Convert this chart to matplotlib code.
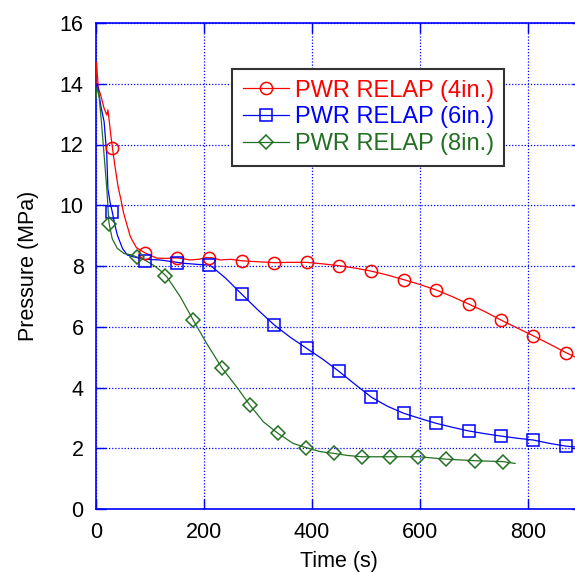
import matplotlib
matplotlib.use("Agg")
import matplotlib.pyplot as plt
from matplotlib.lines import Line2D

plt.rcParams['font.family'] = ['Liberation Sans', 'DejaVu Sans']

# ---- data ----
red_t = [0, 1, 4, 9, 15, 20, 22, 24, 27, 30, 35, 41, 46, 51, 55, 63, 67, 75, 90, 112, 130, 150,
         174, 190, 205, 215, 230, 250, 270, 300, 330, 360, 390, 420, 450, 480, 510, 540, 570,
         600, 630, 660, 690, 720, 750, 780, 810, 840, 870, 890]
red_p = [14.0, 14.7, 13.9, 13.6, 13.19, 12.97, 13.14, 12.86, 12.37, 11.95, 11.3, 10.6, 10.2,
         9.75, 9.5, 9.0, 8.85, 8.6, 8.44, 8.26, 8.25, 8.27, 8.2, 8.22, 8.28, 8.27, 8.2, 8.22,
         8.17, 8.14, 8.11, 8.12, 8.12, 8.07, 8.01, 7.93, 7.83, 7.7, 7.55, 7.39, 7.21, 6.99,
         6.75, 6.5, 6.22, 5.96, 5.7, 5.43, 5.15, 4.98]
red_mt = [30, 90, 150, 210, 270, 330, 390, 450, 510, 570, 630, 690, 750, 810, 870]
red_mp = [11.88, 8.44, 8.27, 8.27, 8.17, 8.11, 8.12, 8.01, 7.83, 7.55, 7.21, 6.75, 6.22, 5.70, 5.15]

blue_t = [0, 2.5, 8.6, 15, 20, 22, 26, 30, 35, 39.5, 49, 58, 70, 90, 118, 150, 162, 190, 211,
          240, 270, 300, 330, 360, 390, 420, 450, 480, 510, 540, 570, 600, 630, 660, 690, 720,
          750, 780, 810, 840, 870, 890]
blue_p = [13.6, 14.0, 13.3, 12.75, 11.65, 10.55, 10.1, 9.79, 9.35, 9.02, 8.58, 8.36, 8.3,
          8.22, 8.2, 8.12, 8.09, 8.05, 8.03, 7.6, 7.07, 6.55, 6.06, 5.65, 5.29, 4.93, 4.53,
          4.1, 3.68, 3.38, 3.15, 2.98, 2.82, 2.69, 2.57, 2.48, 2.4, 2.33, 2.27, 2.16, 2.07, 2.04]
blue_mt = [30, 90, 150, 210, 270, 330, 390, 450, 510, 570, 630, 690, 750, 810, 870]
blue_mp = [9.79, 8.18, 8.11, 8.02, 7.07, 6.06, 5.29, 4.53, 3.69, 3.15, 2.82, 2.57, 2.40, 2.27, 2.07]

green_t = [0, 2, 5.6, 10, 15, 20, 24, 30, 39.5, 52, 65, 75, 90, 106, 118, 131, 156, 180, 205,
           233, 260, 285, 310, 337, 365, 389, 415, 441, 467, 493, 545, 597, 649, 701, 753, 776]
green_p = [13.5, 13.9, 13.6, 12.75, 11.65, 10.55, 9.42, 8.9, 8.58, 8.41, 8.37, 8.3, 8.2, 8.03,
           7.87, 7.65, 6.99, 6.22, 5.45, 4.65, 4.03, 3.42, 2.87, 2.49, 2.16, 2.02, 1.89, 1.83,
           1.76, 1.72, 1.72, 1.72, 1.64, 1.59, 1.56, 1.5]
green_mt = [24, 76, 128, 180, 233, 285, 337, 389, 441, 493, 545, 597, 649, 701, 753]
green_mp = [9.38, 8.28, 7.68, 6.22, 4.65, 3.42, 2.49, 2.02, 1.83, 1.72, 1.72, 1.72, 1.64, 1.59, 1.56]

labels = ["PWR RELAP (4in.)", "PWR RELAP (6in.)", "PWR RELAP (8in.)"]
x_ticks = [0, 200, 400, 600, 800]
y_ticks = [0, 2, 4, 6, 8, 10, 12, 14, 16]

# ---- figure ----
W, H = 575, 572
fig = plt.figure(figsize=(W / 100, H / 100), dpi=100)
ax = fig.add_axes([96 / W, (H - 509) / H, (582 - 96) / W, (509 - 23) / H])

RED, BLUE, GREEN = "#ff0000", "#0000ff", "#237023"

series = [
    (red_t, red_p, red_mt, red_mp, RED, 'o', 8.8),
    (blue_t, blue_p, blue_mt, blue_mp, BLUE, 's', 8.4),
    (green_t, green_p, green_mt, green_mp, GREEN, 'D', 7.6),
]
handles = []
for t, p, mt, mp, c, m, ms in series:
    ax.plot(t, p, color=c, lw=0.9, zorder=3)
    ax.plot(mt, mp, ls='none', marker=m, ms=ms, mfc='none', mec=c, mew=1.1, zorder=4)
    handles.append(Line2D([], [], color=c, lw=0.9, marker=m, ms=ms, mfc='none', mec=c, mew=1.1))

ax.set_xlim(0, 900)
ax.set_ylim(0, 16)
ax.set_xticks(x_ticks)
ax.set_yticks(y_ticks)

for s in ax.spines.values():
    s.set_color(BLUE)
    s.set_linewidth(1.2)

ax.tick_params(direction='in', length=7, width=1.0, color=BLUE, labelsize=15.5,
               top=True, right=True, labelcolor='black')
ax.tick_params(axis='y', pad=9)
ax.tick_params(axis='x', pad=9)
ax.grid(True, color=BLUE, linestyle=(0, (1, 1.5)), linewidth=0.9)
ax.set_axisbelow(True)

ax.set_xlabel("Time (s)", fontsize=15.5, labelpad=6)
ax.set_ylabel("Pressure (MPa)", fontsize=15.5, labelpad=15)

leg = ax.legend(handles, labels, loc='upper left',
                bbox_to_anchor=(232 / W, 1 - 69 / H), bbox_transform=fig.transFigure,
                borderaxespad=0, fontsize=17, handlelength=1.95, handletextpad=0.25,
                labelspacing=0.2, borderpad=0.45, fancybox=False, framealpha=1,
                edgecolor='#333333')
leg.get_frame().set_linewidth(1.5)
for txt, c in zip(leg.get_texts(), [RED, BLUE, GREEN]):
    txt.set_color(c)

fig.savefig("out.png", dpi=100)
